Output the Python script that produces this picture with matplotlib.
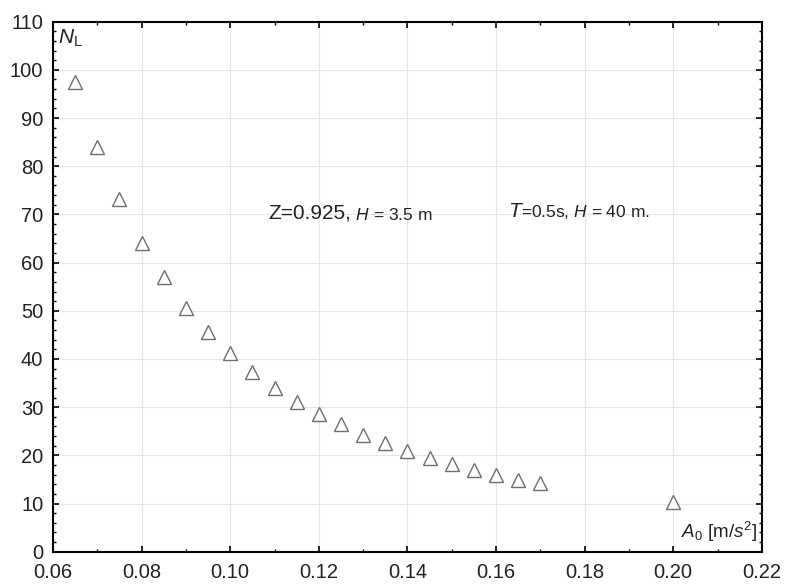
import numpy as np
import matplotlib
matplotlib.use('Agg')
import matplotlib.pyplot as plt
from matplotlib.ticker import MultipleLocator

plt.rcParams['font.family'] = ['Liberation Sans', 'DejaVu Sans']
plt.rcParams['mathtext.fontset'] = 'custom'
plt.rcParams['mathtext.rm'] = 'Liberation Sans'
plt.rcParams['mathtext.it'] = 'Liberation Sans:italic'

# data
a0 = [0.065, 0.070, 0.075, 0.080, 0.085, 0.090, 0.095, 0.100, 0.105, 0.110,
      0.115, 0.120, 0.125, 0.130, 0.135, 0.140, 0.145, 0.150, 0.155, 0.160,
      0.165, 0.170, 0.200]
nl = [97.5, 84.0, 73.2, 64.0, 57.0, 50.6, 45.5, 41.2, 37.3, 33.9,
      31.0, 28.6, 26.4, 24.3, 22.6, 20.8, 19.5, 18.3, 17.0, 16.0,
      14.9, 14.2, 10.3]

fig = plt.figure(figsize=(7.85, 5.84), dpi=100)
ax = fig.add_axes([0.0675, 0.0553, 0.903, 0.9076])

ax.plot(a0, nl, '^', ms=10, mfc='white', mec='#6e6e6e', mew=1.0, zorder=3)

ax.set_xlim(0.06, 0.22)
ax.set_ylim(0, 110)
ax.xaxis.set_major_locator(MultipleLocator(0.02))
ax.xaxis.set_minor_locator(MultipleLocator(0.01))
ax.yaxis.set_major_locator(MultipleLocator(10))
ax.yaxis.set_minor_locator(MultipleLocator(2))
ax.xaxis.set_major_formatter(plt.FuncFormatter(lambda v, p: '%.2f' % v))
ax.grid(True, which='major', color='#e6e6e6', lw=0.8, zorder=0)

ax.tick_params(which='both', direction='in', top=True, right=True,
               labelsize=14.5, labelcolor='#222222')
ax.tick_params(axis='y', pad=7)
ax.tick_params(axis='x', pad=8)
ax.tick_params(which='major', length=4, width=1.2)
ax.tick_params(which='minor', length=2.5, width=1.0)
for s in ax.spines.values():
    s.set_linewidth(1.5)
    s.set_color('black')

# axis titles inside the frame
ax.text(0.0612, 106.6, r'$\mathit{N}_{\mathrm{L}}$', fontsize=15, va='center', ha='left', color='#222222')
ax.text(0.2189, 4.2, r'$\mathit{A}_{0}\ \mathrm{[m/}\mathit{s}^{2}\mathrm{]}$', fontsize=13.5,
        va='center', ha='right', color='#222222')

# annotations, built from pieces of different size
t1 = ax.text(0.1087, 69.1, 'Z=0.925,', fontsize=15, va='baseline', color='#222222')
ax.annotate(' $\\mathit{H}$ = 3.5 m', xy=(1, 0), xycoords=t1, fontsize=12.5,
            va='bottom', color='#222222')
t2 = ax.text(0.1627, 69.4, 'T', fontsize=15, style='italic', va='baseline', color='#222222')
ax.annotate('=0.5s, $\\mathit{H}$ = 40 m.', xy=(1, 0), xycoords=t2, fontsize=12.5,
            va='bottom', color='#222222')

fig.savefig('out.png', dpi=100)
